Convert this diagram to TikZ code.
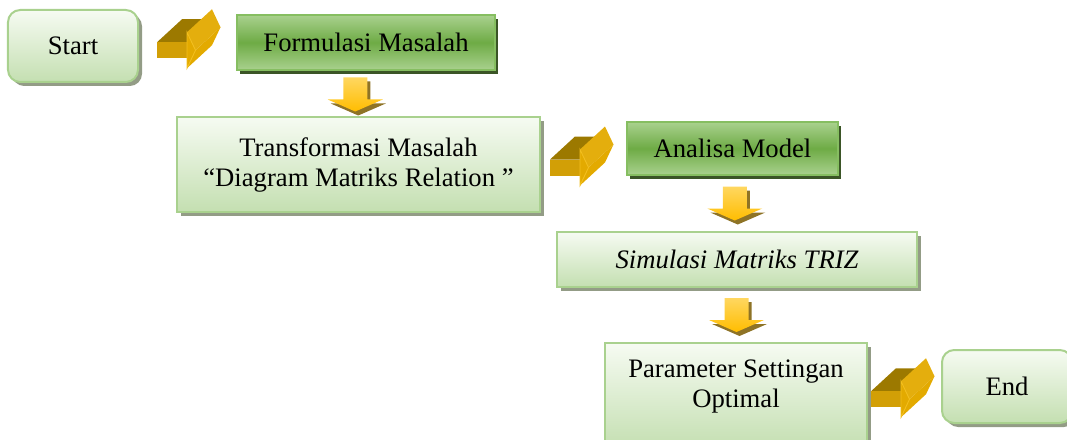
\documentclass[tikz,border=0pt]{standalone}
\usepackage{fontspec}
\setmainfont{Liberation Serif}
\usetikzlibrary{calc, shadows}

% Warna
\definecolor{hijauMuda}{HTML}{F6FBF2}
\definecolor{hijauBawah}{HTML}{C4DFB1}
\definecolor{garisMuda}{HTML}{A9D18E}
\definecolor{hijauTua}{HTML}{6EAB45}
\definecolor{garisTua}{HTML}{86BE61}
\definecolor{bayangTua}{HTML}{3B5527}
\definecolor{bayangAbu}{HTML}{939C86}
\definecolor{emasGelap}{HTML}{9C7900}
\definecolor{emasSedang}{HTML}{D29F06}
\definecolor{emasTerang}{HTML}{E3AA00}
\definecolor{emasTepi}{HTML}{F2BE1E}
\definecolor{kuningAtas}{HTML}{FFD760}
\definecolor{kuningBawah}{HTML}{FFBD00}
\definecolor{coklatBayang}{HTML}{7A5A00}

\tikzset{
  kotak/.style={draw=garisMuda, line width=0.9pt, top color=hijauMuda, bottom color=hijauBawah,
    drop shadow={shadow xshift=1.8pt, shadow yshift=-1.8pt, fill=bayangAbu, opacity=1},
    align=center, inner sep=0pt, font=\fontsize{12}{13.5}\selectfont},
  kotakbulat/.style={kotak, rounded corners=5.5pt},
  kotaktua/.style={draw=garisTua, line width=0.9pt, top color=garisMuda, bottom color=garisMuda,
    middle color=hijauTua,
    drop shadow={shadow xshift=1.5pt, shadow yshift=-1.8pt, fill=bayangTua, opacity=1},
    align=center, inner sep=0pt, font=\fontsize{12}{13.5}\selectfont},
  % panah blok tiga dimensi
  panahtiga/.pic={
    \fill[emasTerang] (7,11) -- (-1.5,29) -- (23.5,6) -- (32,-12) -- cycle;
    \fill[emasGelap] (-31.5,3) -- (-1.5,3) -- (23.5,-20) -- (-6.5,-20) -- cycle;
    \fill[emasTerang!95!white] (-1.5,-7) -- (7,11) -- (32,-12) -- (23.5,-30) -- cycle;
    \fill[emasSedang] (-31.5,3) rectangle (-1.5,19);
    \filldraw[fill=emasTerang, draw=emasTepi, line width=0.4pt] (-1.5,-7) -- (7,11) -- (-1.5,29) -- cycle;
  },
  % panah kecil ke bawah
  panahbawah/.pic={
    \fill[coklatBayang, opacity=0.85, shift={(3,4)}] (-12,-17) -- (12,-17) -- (12,5) -- (27.5,5)
      -- (0,17) -- (-27.5,5) -- (-12,5) -- cycle;
    \shade[top color=kuningAtas, bottom color=kuningBawah] (-12,-17) -- (12,-17) -- (12,5) -- (27.5,5)
      -- (0,17) -- (-27.5,5) -- (-12,5) -- cycle;
  }
}

\begin{document}
\begin{tikzpicture}[x=0.45pt, y=-0.45pt]
    \useasboundingbox (0,0) rectangle (1067,439);
    % Kotak
    \node[kotakbulat, minimum width=58.5pt, minimum height=32.4pt] (start) at (73,46) {Start};
    \node[kotaktua, minimum width=116.1pt, minimum height=24.75pt] (formulasi) at (366,42.5) {Formulasi Masalah};
    \node[kotak, minimum width=163.35pt, minimum height=42.75pt] (transformasi) at (358.5,164.5)
      {Transformasi Masalah\\“Diagram Matriks Relation ”};
    \node[kotaktua, minimum width=94.95pt, minimum height=23.85pt] (analisa) at (732.5,148.5) {Analisa Model};
    \node[kotak, minimum width=162pt, minimum height=24.75pt] (simulasi) at (737,259.5) {\itshape Simulasi Matriks TRIZ};
    \node[kotak, minimum width=117.9pt, minimum height=47.7pt, anchor=north] (parameter) at (736,342)
      {\raisebox{4.5pt}[\height][\depth]{\begin{tabular}{@{}c@{}}Parameter Settingan\\Optimal\end{tabular}}};
    \node[kotakbulat, minimum width=58.5pt, minimum height=32.85pt] (end) at (1007,386.5) {End};
    % Panah
    \pic at ($(start.east)!.5!(formulasi.west)+(1,-5)$) {panahtiga};
    \pic at ($(transformasi.east)!.5!(analisa.west)+(-2,0)$) {panahtiga};
    \pic at ($(parameter.east)!.5!(end.west)+(-2,-3)$) {panahtiga};
    \pic at ($(formulasi.south)!.5!(transformasi.north)+(-7,1)$) {panahbawah};
    \pic at ($(analisa.south)!.5!(simulasi.north)$) {panahbawah};
    \pic at ($(simulasi.south)!.5!(parameter.north)$) {panahbawah};
\end{tikzpicture}
\end{document}
